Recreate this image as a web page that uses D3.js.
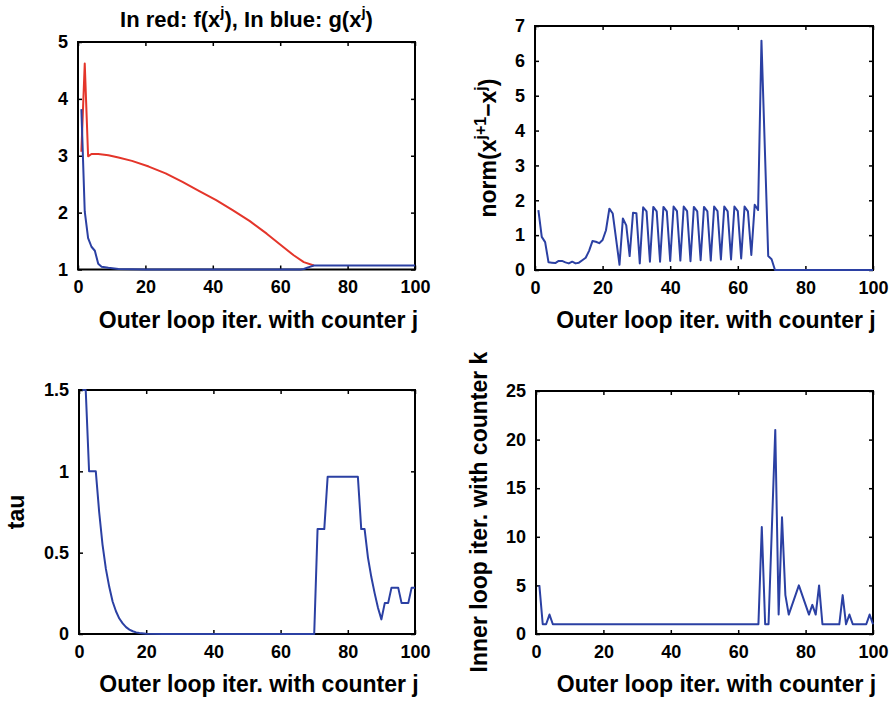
<!DOCTYPE html>
<html>
<head>
<meta charset="utf-8">
<script src="https://cdn.jsdelivr.net/npm/d3@7"></script>
<style>
  body { margin: 0; background: #fff; }
  svg text { font-family: "Liberation Sans", Arial, Helvetica, sans-serif; font-weight: bold; fill: #000; }
</style>
</head>
<body>
<script>
//Variables
const width = 893;
const height = 701;
const blue = "#2b40a3";
const red = "#e4352a";

//Data
const xTicks = [0, 20, 40, 60, 80, 100];

// panel 1 : f (red) and g (blue)
const fJ = [1, 2, 3, 4, 6, 9, 12, 16, 21, 26, 31, 36, 41, 46, 51, 56, 61, 64, 67, 70];
const fVal = [3.07, 4.62, 2.99, 3.03, 3.03, 3.01, 2.97, 2.91, 2.81, 2.69, 2.54, 2.38, 2.22, 2.04, 1.85, 1.63, 1.39, 1.25, 1.13, 1.07];
const gJ = [1, 2, 3, 4, 5, 6, 7, 9, 12, 20, 30, 40, 50, 60, 66, 67, 68, 69, 70, 80, 90, 100];
const gVal = [3.82, 2.02, 1.55, 1.40, 1.33, 1.10, 1.05, 1.03, 1.01, 1.00, 1.00, 1.00, 1.00, 1.00, 1.00, 1.01, 1.03, 1.05, 1.07, 1.07, 1.07, 1.07];
const p1YTicks = [1, 2, 3, 4, 5];

// panel 2 : norm(x^{j+1}-x^j)
const normJ = [1, 2, 3, 4, 5, 6, 7, 8, 9, 10, 11, 12, 13, 14, 15, 16, 17, 18, 19, 20,
  21, 22, 23, 25, 26, 27, 28, 29, 30, 31, 32, 33, 34, 35, 36, 37, 38, 39, 40,
  41, 42, 43, 44, 45, 46, 47, 48, 49, 50, 51, 52, 53, 54, 55, 56, 57, 58, 59, 60,
  61, 62, 63, 64, 65, 66, 67, 69, 70, 71, 80, 90, 100];
const normVal = [1.72, 0.95, 0.80, 0.22, 0.21, 0.20, 0.26, 0.26, 0.22, 0.19, 0.24, 0.19, 0.21, 0.28, 0.35, 0.55, 0.83, 0.81, 0.77, 0.86,
  1.14, 1.76, 1.62, 0.15, 1.48, 1.28, 0.40, 1.64, 1.63, 0.19, 1.80, 1.68, 0.24, 1.81, 1.68, 0.24, 1.81, 1.68, 0.26,
  1.82, 1.69, 0.27, 1.82, 1.69, 0.25, 1.81, 1.68, 0.28, 1.81, 1.68, 0.27, 1.82, 1.69, 0.30, 1.82, 1.68, 0.30, 1.82, 1.69,
  0.33, 1.82, 1.68, 0.43, 1.87, 1.72, 6.58, 0.40, 0.31, 0.00, 0.00, 0.00, 0.00];
const p2YTicks = [0, 1, 2, 3, 4, 5, 6, 7];

// panel 3 : tau
const tauJ = [1, 2, 3, 4, 5, 6, 7, 8, 9, 10, 11, 12, 13, 14, 15, 16, 17, 18, 20, 25, 70,
  71, 73, 74, 83, 84, 85, 86, 87, 88, 89, 90, 91, 92, 93, 95, 96, 98, 99, 100];
const tauVal = [1.5, 1.5, 1.0, 1.0, 1.0, 0.75, 0.55, 0.40, 0.29, 0.20, 0.14, 0.095, 0.065, 0.042, 0.027, 0.017, 0.010, 0.006, 0.002, 0, 0,
  0.645, 0.645, 0.967, 0.967, 0.645, 0.645, 0.47, 0.35, 0.25, 0.16, 0.09, 0.19, 0.19, 0.285, 0.285, 0.19, 0.19, 0.285, 0.285];
const p3YTicks = [0, 0.5, 1, 1.5];

// panel 4 : inner loop iterations k
const kJ = [1, 2, 3, 4, 5, 66, 67, 68, 69, 71, 72, 73, 74, 75, 78, 81, 82, 83, 84, 85, 90, 91, 92, 93, 94, 98, 99, 100];
const kVal = [5, 1, 1, 2, 1, 1, 11, 1, 1, 21, 2, 12, 4, 2, 5, 2, 3, 2, 5, 1, 1, 4, 1, 2, 1, 1, 2, 1];
const p4YTicks = [0, 5, 10, 15, 20, 25];

//SVG creation
const svg = d3.select("body")
  .append("svg")
  .attr("width", width)
  .attr("height", height);

const drawPanel = (box, yDomain, yTicks, series, xLabel) => {
  const xScale = d3.scaleLinear().domain([0, 100]).range([box.left, box.right]);
  const yScale = d3.scaleLinear().domain(yDomain).range([box.bottom, box.top]);
  const g = svg.append("g");

  // frame first, data drawn on top of it
  g.append("rect")
    .attr("x", box.left)
    .attr("y", box.top)
    .attr("width", box.right - box.left)
    .attr("height", box.bottom - box.top)
    .attr("fill", "none")
    .attr("stroke", "#000")
    .attr("stroke-width", 2);

  // ticks inside on all four sides
  g.append("g")
    .attr("transform", `translate(0, ${box.bottom})`)
    .call(d3.axisBottom(xScale).tickValues(xTicks).tickSizeInner(-4).tickSizeOuter(0).tickPadding(11).tickFormat(d3.format("d")));
  g.append("g")
    .attr("transform", `translate(0, ${box.top})`)
    .call(d3.axisTop(xScale).tickValues(xTicks).tickSizeInner(-4).tickSizeOuter(0).tickFormat(""));
  g.append("g")
    .attr("transform", `translate(${box.left}, 0)`)
    .call(d3.axisLeft(yScale).tickValues(yTicks).tickSizeInner(-4).tickSizeOuter(0).tickPadding(10).tickFormat(d => String(d)));
  g.append("g")
    .attr("transform", `translate(${box.right}, 0)`)
    .call(d3.axisRight(yScale).tickValues(yTicks).tickSizeInner(-4).tickSizeOuter(0).tickFormat(""));

  g.selectAll(".domain").remove();
  g.selectAll(".tick line").attr("stroke", "#000").attr("stroke-width", 1.5);
  g.selectAll(".tick text")
    .style("font-size", "18px")
    .style("font-weight", "bold")
    .attr("fill", "#000");

  series.forEach(s => {
    const line = d3.line()
      .x((d, i) => xScale(s.j[i]))
      .y(d => yScale(d));
    g.append("path")
      .datum(s.v)
      .attr("d", line)
      .attr("fill", "none")
      .attr("stroke", s.color)
      .attr("stroke-width", 2)
      .attr("stroke-linejoin", "round");
  });

  if (xLabel) {
    g.append("text")
      .attr("x", (box.left + box.right) / 2 + 12)
      .attr("y", box.bottom + 58)
      .attr("text-anchor", "middle")
      .style("font-size", "23px")
      .text(xLabel);
  }
  return g;
};

const xLab = "Outer loop iter. with counter j";

//Panel 1
const box1 = { left: 78, right: 415, top: 42, bottom: 269.5 };
drawPanel(box1, [1, 5], p1YTicks,
  [{ j: fJ, v: fVal, color: red }, { j: gJ, v: gVal, color: blue }], xLab);

const title = svg.append("text")
  .attr("x", (box1.left + box1.right) / 2)
  .attr("y", 27)
  .attr("text-anchor", "middle")
  .style("font-size", "22px");
title.append("tspan").text("In red: f(x");
title.append("tspan").attr("dy", -10).style("font-size", "15px").text("j");
title.append("tspan").attr("dy", 10).text("), In blue: g(x");
title.append("tspan").attr("dy", -10).style("font-size", "15px").text("j");
title.append("tspan").attr("dy", 10).text(")");

//Panel 2
const box2 = { left: 535, right: 873, top: 26, bottom: 270 };
drawPanel(box2, [0, 7], p2YTicks, [{ j: normJ, v: normVal, color: blue }], xLab);

const yl2 = svg.append("text")
  .attr("transform", `translate(496, 148) rotate(-90)`)
  .attr("text-anchor", "middle")
  .style("font-size", "23px");
yl2.append("tspan").text("norm(x");
yl2.append("tspan").attr("dy", -10).style("font-size", "16px").text("j+1");
yl2.append("tspan").attr("dy", 10).text("\u2212x");
yl2.append("tspan").attr("dy", -10).style("font-size", "16px").text("j");
yl2.append("tspan").attr("dy", 10).text(")");

//Panel 3
const box3 = { left: 79, right: 415, top: 390, bottom: 634 };
drawPanel(box3, [0, 1.5], p3YTicks, [{ j: tauJ, v: tauVal, color: blue }], xLab);

svg.append("text")
  .attr("transform", `translate(24, 512) rotate(-90)`)
  .attr("text-anchor", "middle")
  .style("font-size", "23px")
  .text("tau");

//Panel 4
const box4 = { left: 536, right: 873, top: 391, bottom: 634 };
drawPanel(box4, [0, 25], p4YTicks, [{ j: kJ, v: kVal, color: blue }], xLab);

svg.append("text")
  .attr("transform", `translate(487, 512) rotate(-90)`)
  .attr("text-anchor", "middle")
  .style("font-size", "23px")
  .text("Inner loop iter. with counter k");
</script>
</body>
</html>
